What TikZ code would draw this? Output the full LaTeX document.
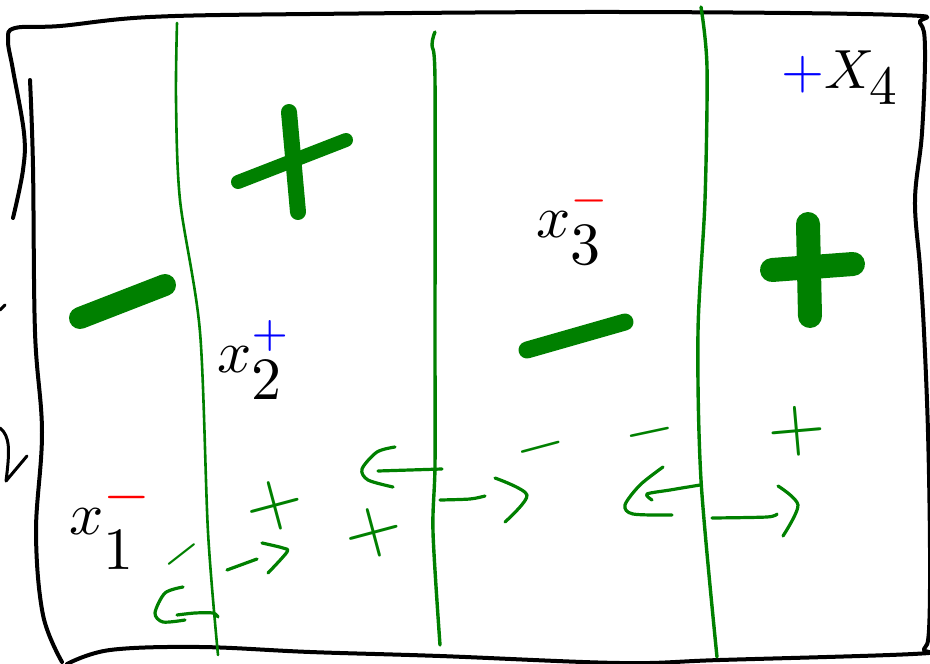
\documentclass[tikz,border=0pt]{standalone}
\definecolor{cgreen}{HTML}{008000}
\definecolor{cred}{HTML}{FF0000}
\definecolor{cblue}{HTML}{0000FF}
\tikzset{
  every picture/.style={line cap=round, line join=round},
  frame/.style={draw=black, line width=4pt},
  split/.style={draw=cgreen, line width=3.4pt},
  blob/.style={draw=cgreen, line width=#1},
  blob/.default=18pt,
  pen/.style={draw=cgreen, line width=3.2pt},
  lbl/.style={font=\normalsize, scale=6, inner sep=0pt, anchor=base west},
  sgn/.style={text=cgreen, font=\normalsize, scale=7.5, inner sep=0pt},
  neg/.style={sgn, scale=6.5/7.5, text height=3pt, text depth=-2pt},
}
\begin{document}
\begin{tikzpicture}[x=1pt, y=-1pt]
  \useasboundingbox (0,0) rectangle (930,664);
  \draw[frame] plot[smooth, tension=0.6] coordinates {(13,218) (23,170) (24,133) (13,70) (8,40) (15,28) (60,26) (150,17) (310,14) (620,12) (900,15) (920,23) (925,50) (922,133) (915,200) (920,267) (924,332) (928,432) (930,549) (929,630) (924,649) (913,654) (720,660) (620,663) (440,656) (310,652) (200,647) (110,650) (67,664)};
  \draw[frame] plot[smooth, tension=0.6] coordinates {(30,80) (33,167) (35,332) (42,432) (36,532) (43,615) (62,662)};
  \draw[frame, line width=3pt] (0,310) -- (5,305);
  \draw[frame, line width=3pt] (0,428) .. controls (10,436) and (10,450) .. (6,481) -- (27,456);
  % the three splits
  \draw[split, line width=2.6pt] plot[smooth] coordinates {(177,23) (176,100) (180,200) (200,332) (208,532) (218,655)};
  \draw[split] plot[smooth] coordinates {(435,32) (432,45) (435,80) (435,332) (435,465) (433,532) (440,645)};
  \draw[split] plot[smooth] coordinates {(701,7) (707,67) (705,200) (698,332) (701,480) (717,657)};
  \draw[blob=22pt] (80,318) -- (165,285);
  \draw[blob=16pt] (289,112) -- (298,212);
  \draw[blob=14pt] (238,182) -- (346,140);
  \draw[blob=17pt] (527,350) -- (625,322);
  \draw[blob=24pt] (808,224) -- (810,316);
  \draw[blob=24pt] (772,270) -- (853,264);
  \node[lbl] (xone) at (68,534) {$x^{\textstyle\textcolor{cred}{-}}_{\smash{\lower3.5pt\hbox{$\textstyle 1$}}}$};
  \node[lbl] (xtwo) at (216,372) {$x_{\textstyle 2}^{\textcolor{cblue}{+}}$};
  \node[lbl] (xthree) at (535,237) {$x_{\textstyle 3}^{\textcolor{cred}{-}}$};
  \node[lbl, scale=0.92] (xfour) at (780,88) {$\textcolor{cblue}{+}X_{\textstyle 4}$};
  \node[neg, scale=5.5/6.5, rotate=38] (mone) at (185,559) {$-$};
  \node[sgn, rotate=15] (pone) at (275,506) {$+$};
  \node[sgn, rotate=15] (ptwo) at (374,533) {$+$};
  \node[neg, rotate=15] (mtwo) at (542,454) {$-$};
  \node[neg, rotate=12] (mthree) at (651,439) {$-$};
  \node[sgn, rotate=5] (pthree) at (797,431) {$+$};
  \draw[pen] plot[smooth] coordinates {(183,587) (165,593) (155,613) (163,622) (185,620)};
  \draw[pen] plot[smooth] coordinates {(177,615) (195,613) (213,613) (218,617)};
  \draw[pen] (227,570) -- (257,559);
  \draw[pen] plot[smooth] coordinates {(262,543) (283,548) (287,552) (268,573)};
  \draw[pen] plot[smooth] coordinates {(395,447) (377,452) (362,469) (368,480) (393,487)};
  \draw[pen] (378,471) -- (442,469);
  \draw[pen] plot[smooth] coordinates {(440,500) (470,499) (485,496)};
  \draw[pen] plot[smooth] coordinates {(495,478) (527,495) (505,522)};
  \draw[pen] plot[smooth] coordinates {(663,467) (640,485) (625,505) (633,514) (672,515)};
  \draw[pen] plot[smooth] coordinates {(700,485) (670,490) (647,494) (652,500)};
  \draw[pen] plot[smooth] coordinates {(712,518) (767,517) (777,514)};
  \draw[pen] plot[smooth] coordinates {(778,486) (798,505) (783,536)};
\end{tikzpicture}
\end{document}
